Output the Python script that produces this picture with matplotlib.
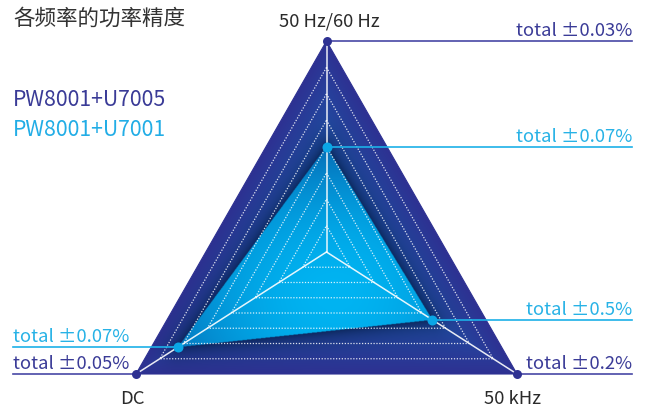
import numpy as np
import matplotlib.pyplot as plt
from matplotlib.path import Path
from matplotlib.colors import to_rgb

plt.rcParams['font.family'] = ['Noto Sans CJK SC', 'DejaVu Sans']

# -----------------------------
# data
# -----------------------------
title = "各频率的功率精度"
axis_labels = ["50 Hz/60 Hz", "50 kHz", "DC"]
series_names = ["PW8001+U7005", "PW8001+U7001"]
u7005_scores = [1.0, 1.0, 1.0]        # radar score per axis
u7001_scores = [0.50, 0.556, 0.78]
u7005_acc = ["total ±0.03%", "total ±0.2%", "total ±0.05%"]
u7001_acc = ["total ±0.07%", "total ±0.5%", "total ±0.07%"]
n_levels = 8

# -----------------------------
# layout (pixel coords, y down)
# -----------------------------
W, H = 645, 408
cx, cy = 326.5, 252.0
spokes = np.array([[0.0, -211.0], [190.5, 122.0], [-190.5, 122.0]])
navy = "#2e3192"
navy_txt = "#3a3b97"
cyan = "#1cb0e8"
cyan_dot = "#0aa6e6"


def radar_xy(scores):
    s = np.asarray(scores)[:, None]
    return np.array([cx, cy]) + s * spokes


def poly_level(px, py, verts):
    # smallest scale s (about the centre) so that point lies inside s*polygon
    lv = np.full(px.shape, -np.inf)
    n = len(verts)
    for i in range(n):
        a, b = verts[i], verts[(i + 1) % n]
        e = b - a
        nrm = np.array([e[1], -e[0]])
        if np.dot(nrm, a - [cx, cy]) < 0:
            nrm = -nrm
        lv = np.maximum(lv, (nrm[0] * (px - cx) + nrm[1] * (py - cy)) / np.dot(nrm, a - [cx, cy]))
    return lv


def seg_dist(px, py, verts):
    d = np.full(px.shape, np.inf)
    n = len(verts)
    for i in range(n):
        a, b = verts[i], verts[(i + 1) % n]
        e = b - a
        t = ((px - a[0]) * e[0] + (py - a[1]) * e[1]) / np.dot(e, e)
        t = np.clip(t, 0, 1)
        dx = px - (a[0] + t * e[0])
        dy = py - (a[1] + t * e[1])
        d = np.minimum(d, np.hypot(dx, dy))
    return d


outer = radar_xy(u7005_scores)
inner = radar_xy(u7001_scores)

fig = plt.figure(figsize=(W / 100, H / 100), dpi=100)
ax = fig.add_axes([0, 0, 1, 1])
ax.set_xlim(0, W)
ax.set_ylim(H, 0)
ax.axis("off")

# -----------------------------
# gradient fills
# -----------------------------
res = 2
xs = (np.arange(W * res) + 0.5) / res
ys = (np.arange(H * res) + 0.5) / res
X, Y = np.meshgrid(xs, ys)

lv = poly_level(X, Y, outer)
t = np.clip((lv - 0.3) / 0.7, 0, 1) ** 1.1
c_in, c_out = np.array(to_rgb("#1a5cad")), np.array(to_rgb(navy))
img = c_in * (1 - t[..., None]) + c_out * t[..., None]

inside_inner = Path(inner).contains_points(np.c_[X.ravel(), Y.ravel()]).reshape(X.shape)
d = seg_dist(X, Y, inner)
shade = np.exp(-d / 10.0) * 0.8
shade[inside_inner] = 0
dark = np.array(to_rgb("#08204f"))
img = img * (1 - shade[..., None]) + dark * shade[..., None]

r = np.hypot((X - 335) / 1.0, (Y - 295) / 0.8) / 195.0
r = np.clip(r, 0, 1)
ci0, ci1 = np.array(to_rgb("#00b4f2")), np.array(to_rgb("#0766b0"))
inner_img = ci0 * (1 - r[..., None] ** 1.9) + ci1 * r[..., None] ** 1.9
img[inside_inner] = inner_img[inside_inner]

im = ax.imshow(img, extent=(0, W, H, 0), interpolation="bilinear", zorder=1)
clip = plt.Polygon(outer, closed=True, facecolor="none", edgecolor="none")
ax.add_patch(clip)
im.set_clip_path(clip)
ax.add_patch(plt.Polygon(outer, closed=True, facecolor="none", edgecolor=navy, lw=0.8, zorder=2))

# -----------------------------
# grid
# -----------------------------
for k in range(1, n_levels):
    g = radar_xy([k / n_levels] * 3)
    g = np.vstack([g, g[:1]])
    ax.plot(g[:, 0], g[:, 1], color="white", lw=0.9, alpha=0.85,
            linestyle=(0, (1, 1.3)), zorder=3)
for v in outer:
    ax.plot([cx, v[0]], [cy, v[1]], color="white", lw=1.1, alpha=0.9, zorder=4)

# -----------------------------
# leader lines + labels
# -----------------------------
x_right, x_left = 632, 13
fs = 13.3
for pts, accs, col, tcol in [(outer, u7005_acc, "#4848a6", navy_txt),
                            (inner, u7001_acc, cyan, "#27b2e6")]:
    for i in (0, 1):
        ax.plot([pts[i, 0], x_right], [pts[i, 1], pts[i, 1]], color=col, lw=1.2, zorder=5)
        ax.text(x_right, pts[i, 1] - 5, accs[i], ha="right", va="baseline",
                fontsize=fs, color=tcol, zorder=6)
    ax.plot([x_left, pts[2, 0]], [pts[2, 1], pts[2, 1]], color=col, lw=1.2, zorder=5)
    ax.text(x_left, pts[2, 1] - 5, accs[2], ha="left", va="baseline",
            fontsize=fs, color=tcol, zorder=6)

ax.scatter(outer[:, 0], outer[:, 1], s=42, color=navy, zorder=7, linewidths=0)
ax.scatter(inner[:, 0], inner[:, 1], s=52, color=cyan_dot, zorder=7, linewidths=0)

# axis names
ax.text(outer[0, 0] + 3, 21, axis_labels[0], ha="center", va="center", fontsize=13.3, color="#2a2a2a")
ax.text(outer[1, 0] - 5, 399, axis_labels[1], ha="center", va="center", fontsize=13.3, color="#2a2a2a")
ax.text(outer[2, 0] - 4, 399, axis_labels[2], ha="center", va="center", fontsize=13.3, color="#2a2a2a")

# title + legend
ax.text(13, 19, title, ha="left", va="center", fontsize=15.5, color="#333333")
ax.text(13, 100, series_names[0], ha="left", va="center", fontsize=15.3, color=navy_txt)
ax.text(13, 130, series_names[1], ha="left", va="center", fontsize=15.3, color="#22ade6")

fig.savefig("out.png", dpi=100)
